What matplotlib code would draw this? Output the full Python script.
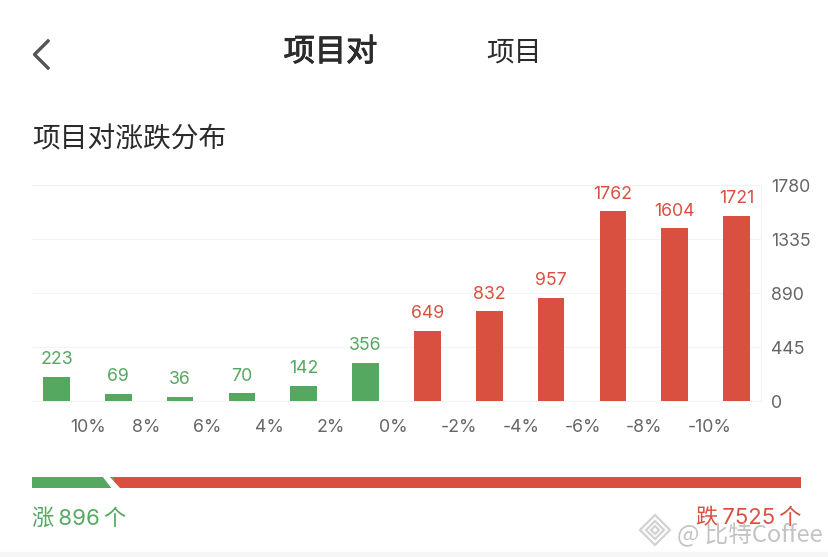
import numpy as np
import matplotlib.pyplot as plt
import matplotlib.patheffects as pe
from matplotlib.lines import Line2D
from matplotlib.patches import Polygon, Rectangle

plt.rcParams['font.family'] = ['Noto Sans CJK SC', 'DejaVu Sans']

W, H = 829, 557

pct_labels = ['10%', '8%', '6%', '4%', '2%', '0%', '-2%', '-4%', '-6%', '-8%', '-10%']
up_values = [223, 69, 36, 70, 142, 356]
down_values = [649, 832, 957, 1762, 1604, 1721]
axis_labels = ['0', '445', '890', '1335', '1780']
up_total = 896
down_total = 7525

GREEN = '#55a860'
RED = '#da5040'
GREY = '#666666'
DARK = '#2b2b2b'
NUM_FONT = ['Inter', 'DejaVu Sans']
MIX_FONT = ['Inter', 'Noto Sans CJK SC']


def px_box(x0, y0, x1, y1):
    # pixel box (y from the top) to figure fractions
    return [x0 / W, 1 - y1 / H, (x1 - x0) / W, (y1 - y0) / H]


def label(x, y, s, **kw):
    return fig.text(x / W, 1 - y / H, s, va='center', **kw)


def diamond(cx, cy, r, **kw):
    return Polygon([(cx / W, 1 - (cy - r) / H), ((cx + r) / W, 1 - cy / H),
                    (cx / W, 1 - (cy + r) / H), ((cx - r) / W, 1 - cy / H)],
                   closed=True, transform=fig.transFigure, **kw)


fig = plt.figure(figsize=(W / 100, H / 100), dpi=100, facecolor='white')

# main chart
ax = fig.add_axes(px_box(32, 185, 761, 401))
values = up_values + down_values
colors = [GREEN] * len(up_values) + [RED] * len(down_values)
x = np.arange(len(values))
bar_w = 0.43
ax.bar(x, values, width=bar_w, color=colors, zorder=3)
for xi, v, c in zip(x, values, colors):
    ax.annotate(str(v), (xi, v), xytext=(0, 12.5), textcoords='offset points',
                ha='center', va='center', fontsize=12.8, color=c, family=NUM_FONT)

# the drawn bars sit lower than the 1780 scale says, top of scale is about 2007
ax.set_xlim(-0.396, 11.396)
ax.set_ylim(0, 2007)
ax.set_yticks(np.linspace(0, 2007, 5))
ax.set_yticklabels(axis_labels, fontsize=12.8, color=GREY, family=NUM_FONT)
ax.yaxis.tick_right()
ax.set_xticks(x[:-1] + bar_w / 2)
ax.set_xticklabels(pct_labels, fontsize=12.8, color=GREY, ha='left', family=NUM_FONT)
ax.tick_params(length=0)
ax.tick_params(axis='x', pad=13)
ax.tick_params(axis='y', pad=7.5)
ax.grid(axis='y', color='#f3f3f3', linewidth=0.8, zorder=0)
ax.spines['left'].set_visible(False)
for name in ['top', 'bottom', 'right']:
    ax.spines[name].set_color('#f3f3f3')

# ratio bar under the chart
bar_ax = fig.add_axes(px_box(32, 476.5, 801, 488))
bar_ax.barh([0], [up_total], height=1, color=GREEN)
bar_ax.barh([0], [down_total], left=[up_total], height=1, color=RED)
bar_ax.set_xlim(0, up_total + down_total)
bar_ax.set_ylim(-0.5, 0.5)
bar_ax.axis('off')
fig.add_artist(Polygon([(103 / W, 1 - 476 / H), (108 / W, 1 - 476 / H),
                        (120 / W, 1 - 489 / H), (113 / W, 1 - 489 / H)],
                       closed=True, color='white', transform=fig.transFigure))

# page header
fig.add_artist(Line2D([48 / W, 34.5 / W, 48 / W],
                      [1 - 41 / H, 1 - 54.5 / H, 1 - 68 / H],
                      color='#555555', linewidth=2.4, transform=fig.transFigure))
head = label(330.5, 52, '项目对', fontsize=22.5, color=DARK, ha='center')
head.set_path_effects([pe.withStroke(linewidth=0.7, foreground=DARK)])
label(513.5, 52, '项目', fontsize=20, color=DARK, ha='center')
label(32.5, 139, '项目对涨跌分布', fontsize=20, color=DARK, ha='left')

# counts
label(32, 518, f'涨\u2009{up_total}\u2009个', fontsize=16, color=GREEN, ha='left', family=MIX_FONT)
label(801, 518, f'跌\u2009{down_total}\u2009个', fontsize=16, color=RED, ha='right', family=MIX_FONT)

# watermark
wm = '#d2d2d2'
for r in [15, 9, 4]:
    fig.add_artist(diamond(655, 530, r, fill=False, edgecolor=wm, linewidth=1.6))
label(677, 535, '@ 比特Coffee', fontsize=17, color='#bdbdbd', ha='left', alpha=0.9)

# strip at the bottom of the screenshot
fig.add_artist(Rectangle((0, 0), 1, 5 / H, color='#f6f6f6', transform=fig.transFigure))

fig.savefig('out.png', dpi=100)
